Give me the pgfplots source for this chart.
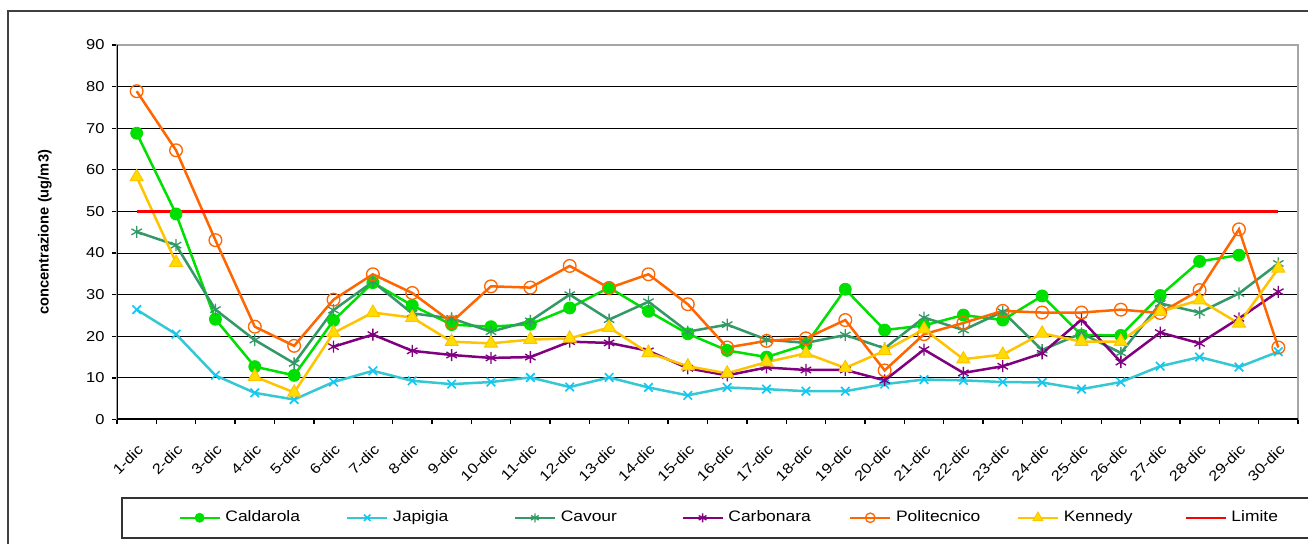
\documentclass[border=0pt]{standalone}
\usepackage{pgfplots}
\pgfplotsset{compat=1.18}
\usepackage{fontspec}
\setmainfont[FakeStretch=1.15]{Liberation Sans}
\newfontfamily\labfont{Liberation Sans}
\definecolor{cgreen}{HTML}{00E000}
\definecolor{cjapl}{HTML}{33C8D2}
\definecolor{cjapm}{HTML}{10C8F8}
\definecolor{ccav}{HTML}{339966}
\definecolor{ccarb}{HTML}{800080}
\definecolor{cpol}{HTML}{FF6600}
\definecolor{cken}{HTML}{FFC400}
\definecolor{ckenf}{HTML}{FFDD00}
\begin{document}
\begin{tikzpicture}
\clip (0,0) rectangle (784.8pt,326.4pt);
\fill[white] (0,0) rectangle (784.8pt,326.4pt);
\draw[black!75, line width=0.9pt] (4.8pt,-30pt) rectangle (830pt,319.8pt);
\begin{axis}[
  at={(70.2pt,74.7pt)}, anchor=south west, scale only axis,
  width=708.6pt, height=224.7pt,
  xmin=0.5, xmax=30.5, ymin=0, ymax=90,
  xtick={1,...,30},
  xticklabels={1-dic,2-dic,3-dic,4-dic,5-dic,6-dic,7-dic,8-dic,9-dic,10-dic,11-dic,12-dic,13-dic,14-dic,15-dic,16-dic,17-dic,18-dic,19-dic,20-dic,21-dic,22-dic,23-dic,24-dic,25-dic,26-dic,27-dic,28-dic,29-dic,30-dic},
  minor xtick={0.5,1.5,...,30.5},
  ytick={0,10,...,90},
  tick pos=left, tick align=outside,
  major tick length=3pt, minor tick length=3pt,
  every major x tick/.style={draw=none},
  every minor x tick/.style={black, line width=0.8pt},
  every major y tick/.style={black, line width=0.8pt},
  ymajorgrids,
  major grid style={black, line width=0.6pt},
  axis line style={gray!70, line width=0.8pt},
  tick label style={font=\fontsize{8.6pt}{10pt}\selectfont},
  /pgf/number format/assume math mode=true,
  xticklabel style={xshift=0pt, yshift=-11pt, rotate=45, anchor=north east, inner sep=0pt},
  yticklabel style={xshift=-1pt},
  ylabel={concentrazione (ug/m3)},
  ylabel style={font=\labfont\bfseries\fontsize{8.8pt}{10pt}\selectfont, at={(axis description cs:-0.061,0.5)}, anchor=center},
  unbounded coords=jump,
  legend columns=7,
  legend style={at={(axis description cs:0.0034,-0.207)}, anchor=north west,
    draw=black!80, line width=0.9pt, inner xsep=34.2pt, inner ysep=7.5pt,
    font=\fontsize{9.1pt}{10pt}\selectfont,
    /tikz/every even column/.style={column sep=0pt},
    /tikz/every odd column/.style={column sep=0pt},
    nodes={inner sep=0pt, text height=7pt, text depth=2pt, anchor=west}},
  legend image code/.code={\draw[mark repeat=2,mark phase=2,#1, line width=1pt, every mark/.append style={scale=0.75}] plot coordinates {(0pt,0pt) (12pt,0pt) (24pt,0pt)};},
]
\addplot[color=cgreen, line width=1.5pt, mark=*, mark size=3.6pt, mark options={solid, fill=cgreen, draw=cgreen, line width=0.5pt}] coordinates {
(1,68.8) (2,49.4) (3,24.1) (4,12.7) (5,10.6) (6,23.8) (7,32.9) (8,27.4) (9,22.8) (10,22.3)
(11,22.9) (12,26.8) (13,31.7) (14,26.0) (15,20.6) (16,16.6) (17,15.0) (18,18.0) (19,31.3) (20,21.5)
(21,22.6) (22,25.1) (23,23.9) (24,29.7) (25,20.3) (26,20.2) (27,29.8) (28,38.0) (29,39.5) (30,nan)};
\addlegendentry{\makebox[75.6pt][l]{\hspace{3pt}Caldarola}}
\addplot[color=cjapl, line width=1.5pt, mark=x, mark size=3.6pt, mark options={solid, draw=cjapm, line width=1pt}] coordinates {
(1,26.4) (2,20.5) (3,10.6) (4,6.4) (5,4.8) (6,9.0) (7,11.7) (8,9.3) (9,8.5) (10,9.0)
(11,10.1) (12,7.8) (13,10.1) (14,7.7) (15,5.8) (16,7.7) (17,7.3) (18,6.8) (19,6.8) (20,8.5)
(21,9.6) (22,9.4) (23,9.0) (24,8.9) (25,7.3) (26,9.0) (27,12.8) (28,15.0) (29,12.6) (30,16.3)};
\addlegendentry{\makebox[75.6pt][l]{\hspace{3pt}Japigia}}
\addplot[color=ccav, line width=1.5pt, mark=asterisk, mark size=3.6pt, mark options={solid, line width=0.8pt}] coordinates {
(1,45.1) (2,41.9) (3,26.4) (4,19.1) (5,13.5) (6,26.3) (7,33.1) (8,25.5) (9,24.3) (10,21.1)
(11,23.7) (12,30.0) (13,24.0) (14,28.3) (15,21.1) (16,22.8) (17,19.2) (18,18.4) (19,20.3) (20,17.1)
(21,24.5) (22,21.5) (23,25.9) (24,16.7) (25,20.7) (26,16.0) (27,27.9) (28,25.7) (29,30.3) (30,37.5)};
\addlegendentry{\makebox[75.6pt][l]{\hspace{3pt}Cavour}}
\addplot[color=ccarb, line width=1.5pt, mark=asterisk, mark size=3.6pt, mark options={solid, line width=0.8pt}] coordinates {
(1,nan) (2,nan) (3,nan) (4,nan) (5,nan) (6,17.5) (7,20.4) (8,16.5) (9,15.5) (10,14.8)
(11,15.0) (12,18.7) (13,18.4) (14,16.5) (15,12.3) (16,10.6) (17,12.5) (18,11.9) (19,11.9) (20,9.4)
(21,16.8) (22,11.2) (23,12.8) (24,15.9) (25,24.0) (26,13.8) (27,20.9) (28,18.3) (29,24.3) (30,30.7)};
\addlegendentry{\makebox[75.6pt][l]{\hspace{3pt}Carbonara}}
\addplot[color=cpol, line width=1.5pt, mark=o, mark size=3.8pt, mark options={solid, line width=0.8pt}] coordinates {
(1,78.9) (2,64.7) (3,43.1) (4,22.3) (5,17.7) (6,28.8) (7,34.9) (8,30.4) (9,23.4) (10,32.0)
(11,31.7) (12,36.9) (13,31.6) (14,34.9) (15,27.7) (16,17.3) (17,18.9) (18,19.5) (19,23.9) (20,11.8)
(21,20.5) (22,23.2) (23,26.1) (24,25.7) (25,25.7) (26,26.4) (27,25.6) (28,31.1) (29,45.7) (30,17.3)};
\addlegendentry{\makebox[75.6pt][l]{\hspace{3pt}Politecnico}}
\addplot[color=cken, line width=1.5pt, mark=triangle*, mark size=4.5pt, mark options={solid, fill=ckenf, draw=cken, line width=0.6pt}] coordinates {
(1,58.3) (2,37.7) (3,nan) (4,10.3) (5,6.5) (6,20.8) (7,25.7) (8,24.5) (9,18.7) (10,18.3)
(11,19.2) (12,19.5) (13,22.1) (14,16.0) (15,12.8) (16,11.1) (17,13.8) (18,15.9) (19,12.4) (20,16.5)
(21,21.7) (22,14.5) (23,15.6) (24,20.7) (25,18.7) (26,18.7) (27,25.9) (28,28.7) (29,23.1) (30,36.3)};
\addlegendentry{\makebox[75.6pt][l]{\hspace{3pt}Kennedy}}
\addplot[color=red, line width=1.6pt] coordinates {(1,50) (30,50)};
\addlegendentry{\makebox[75.6pt][l]{\hspace{3pt}Limite}}
\draw[black, line width=1.4pt] (rel axis cs:0,1) -- (rel axis cs:0,0) -- (rel axis cs:1,0);
\end{axis}
\end{tikzpicture}
\end{document}
